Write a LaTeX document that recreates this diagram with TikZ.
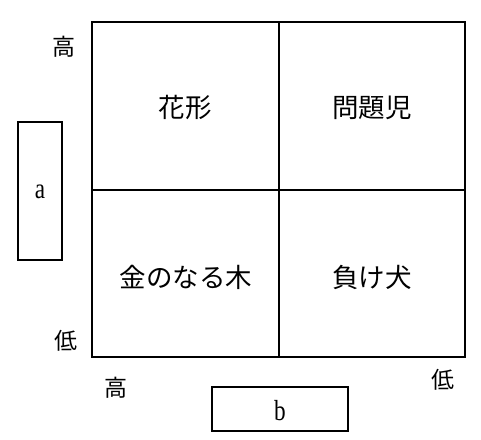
\documentclass[tikz,border=0pt]{standalone}
\usepackage{fontspec}
\setmainfont{Liberation Serif}
\newfontfamily\cjk{Noto Sans CJK JP}
\begin{document}
\begin{tikzpicture}[x=1pt,y=-1pt,
  cell/.style={font=\cjk\fontsize{26.5}{26.5}\selectfont},
  axis/.style={font=\cjk\fontsize{23}{23}\selectfont},
  blank/.style={draw,line width=2.8pt},
  grid/.style={draw,line width=1.8pt},
  lab/.style={font=\fontsize{29}{29}\selectfont,xscale=0.8}]
\useasboundingbox (0,0) rectangle (481,439);
\draw[grid] (92,22) rectangle (465,357);
\draw[grid] (279,22) -- (279,357);
\draw[grid] (92,190) -- (465,190);
\node[cell] (hanagata) at (185,108) {花形};
\node[cell] (mondaiji) at (372,108) {問題児};
\node[cell] (kane) at (186,277) {金のなる木};
\node[cell] (makeinu) at (372,277) {負け犬};
\node[axis] (ytop) at (64,47) {高};
\node[axis] (ybot) at (66,341) {低};
\node[axis] (xleft) at (116,388) {高};
\node[axis] (xright) at (443,380) {低};
\draw[blank] (18,122) rectangle (62,260);
\node[lab] (a) at (40,192) {a};
\draw[blank] (212,387) rectangle (348,431);
\node[lab] (b) at (280,411) {b};
\end{tikzpicture}
\end{document}
